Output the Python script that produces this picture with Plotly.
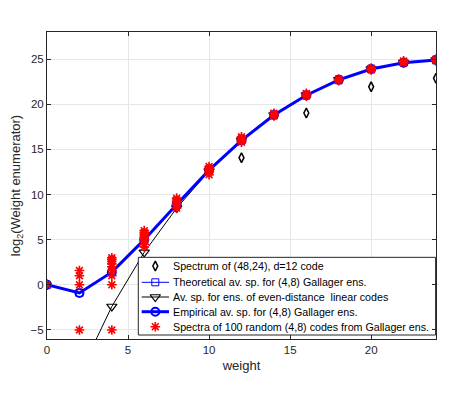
import plotly.graph_objects as go

# ---- data ----
weights = [0, 2, 4, 6, 8, 10, 12, 14, 16, 18, 20, 22, 24]

code_weights = [0, 12, 16, 20, 24]
code_log2 = [0, 14.08, 19.03, 21.93, 22.87]

theory_log2 = [0, -0.9, 1.4, 5.0, 8.9, 12.7, 16.0, 18.8, 21.0, 22.7, 23.9, 24.6, 24.9]

even_weights = [2, 4, 6, 8, 10, 12, 14, 16, 18, 20, 22, 24]
even_log2 = [-9.9, -2.4, 3.6, 8.5, 12.6, 16.0, 18.8, 21.0, 22.7, 23.9, 24.6, 24.9]

empirical_log2 = [0, -0.9, 1.4, 5.0, 8.9, 12.7, 16.0, 18.8, 21.0, 22.7, 23.9, 24.6, 24.9]

star_weights = [0, 2, 4, 6, 8, 10, 12, 14, 16, 18, 20, 22, 24]
star_values = [
    [0],
    [-5, 0, 1, 1.58],
    [-5, 0, 1, 1.58, 2, 2.32, 2.58, 2.81, 3],
    [4.2, 4.5, 4.8, 5.0, 5.2, 5.4, 5.6, 5.8, 6.0],
    [8.5, 8.8, 9.0, 9.2, 9.4, 9.6],
    [12.2, 12.5, 12.7, 12.9, 13.1],
    [15.8, 16.0, 16.2, 16.4],
    [18.7, 18.9, 19.0],
    [20.9, 21.0, 21.2],
    [22.6, 22.7, 22.8],
    [23.8, 23.9, 24.0],
    [24.6, 24.7, 24.8],
    [24.8, 24.9, 25.0],
]

x_ticks = [0, 5, 10, 15, 20]
y_ticks = [-5, 0, 5, 10, 15, 20, 25]

legend_labels = [
    "Spectrum of (48,24), d=12 code",
    "Theoretical av. sp. for (4,8) Gallager ens.",
    "Av. sp. for ens. of even-distance  linear codes",
    "Empirical av. sp. for (4,8) Gallager ens.",
    "Spectra of 100 random (4,8) codes from Gallager ens.",
]

FONT = "Liberation Sans, Arial, sans-serif"
BLUE = "#0000ff"
RED = "#ff0000"

# styles per series (used for data and the legend samples)
styles = [
    dict(line=None, marker=dict(symbol="diamond-tall-open", size=7, color="black", line=dict(width=1.5, color="black"))),
    dict(line=dict(color=BLUE, width=1), marker=dict(symbol="square-open", size=7, color=BLUE, line=dict(width=1, color=BLUE))),
    dict(line=dict(color="black", width=1), marker=dict(symbol="triangle-down-open", size=9, color="black", line=dict(width=1.2, color="black"))),
    dict(line=dict(color=BLUE, width=3), marker=dict(symbol="circle-open", size=8, color=BLUE, line=dict(width=2, color=BLUE))),
    dict(line=None, marker=dict(symbol="asterisk-open", size=8, color=RED, line=dict(width=1.6, color=RED))),
]

sx, sy = [], []
for w, vals in zip(star_weights, star_values):
    for v in vals:
        sx.append(w)
        sy.append(v)

fig = go.Figure()
fig.add_trace(go.Scatter(x=code_weights, y=code_log2, mode="markers",
                         name=legend_labels[0], marker=styles[0]["marker"]))
fig.add_trace(go.Scatter(x=weights, y=theory_log2, mode="lines+markers",
                         name=legend_labels[1], line=styles[1]["line"], marker=styles[1]["marker"]))
fig.add_trace(go.Scatter(x=even_weights, y=even_log2, mode="lines+markers",
                         name=legend_labels[2], line=styles[2]["line"], marker=styles[2]["marker"]))
fig.add_trace(go.Scatter(x=weights, y=empirical_log2, mode="lines+markers",
                         name=legend_labels[3], line=styles[3]["line"], marker=styles[3]["marker"]))
fig.add_trace(go.Scatter(x=sx, y=sy, mode="markers",
                         name=legend_labels[4], marker=styles[4]["marker"]))

# ---- legend box (drawn on an overlay axis in 0..1 units so it sits above the data) ----
box_x0, box_x1, box_y0, box_y1 = 0.2347, 0.999, 0.013, 0.266
row_y = [0.2378, 0.1847, 0.1368, 0.0889, 0.0401]
sample_x0, sample_x1, sample_xc, text_x = 0.2434, 0.3136, 0.2784, 0.3206

fig.add_trace(go.Scatter(
    x=[box_x0, box_x1, box_x1, box_x0, box_x0], y=[box_y0, box_y0, box_y1, box_y1, box_y0],
    xaxis="x2", yaxis="y2", mode="lines", fill="toself", fillcolor="white",
    line=dict(color="#262626", width=1), hoverinfo="skip",
))
for st, yy in zip(styles, row_y):
    if st["line"] is not None:
        fig.add_trace(go.Scatter(x=[sample_x0, sample_x1], y=[yy, yy], xaxis="x2", yaxis="y2",
                                 mode="lines", line=st["line"], hoverinfo="skip"))
    fig.add_trace(go.Scatter(x=[sample_xc], y=[yy], xaxis="x2", yaxis="y2",
                             mode="markers", marker=st["marker"], hoverinfo="skip"))

for lab, yy in zip(legend_labels, row_y):
    fig.add_annotation(x=text_x, y=yy, xref="paper", yref="paper", text=lab, showarrow=False,
                       xanchor="left", yanchor="middle", xshift=-1,
                       font=dict(family=FONT, size=10.7, color="black"))

axis_common = dict(
    showgrid=True, gridcolor="#e6e6e6", gridwidth=1,
    showline=True, linecolor="#262626", linewidth=1, mirror="ticks",
    ticks="inside", ticklen=4, tickcolor="#262626",
    zeroline=False, automargin=False,
    tickfont=dict(family=FONT, size=11.5, color="#262626"),
)

fig.update_xaxes(
    range=[0, 24], tickvals=x_ticks,
    title=dict(text="weight", font=dict(family=FONT, size=13, color="#262626"), standoff=6),
    **axis_common,
)
fig.update_yaxes(
    range=[-6, 28], tickvals=y_ticks,
    title=dict(text="log<sub>2</sub>(Weight enumerator)", font=dict(family=FONT, size=13, color="#262626"), standoff=10),
    **axis_common,
)

fig.update_layout(
    xaxis2=dict(overlaying="x", anchor="y2", range=[0, 1], visible=False, fixedrange=True),
    yaxis2=dict(overlaying="y", anchor="x2", range=[0, 1], visible=False, fixedrange=True),
    width=455, height=391,
    margin=dict(l=39, r=27, t=24, b=60),
    paper_bgcolor="white", plot_bgcolor="white",
    showlegend=False,
)

fig.write_html("out.html")
